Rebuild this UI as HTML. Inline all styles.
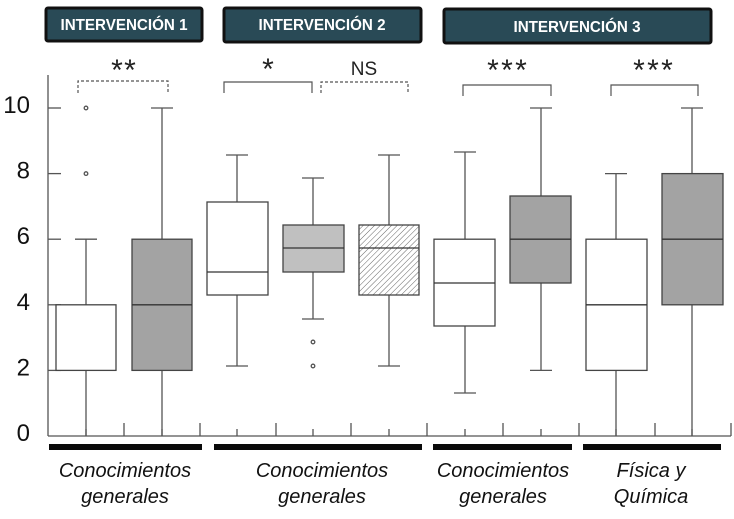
<!DOCTYPE html>
<html><head><meta charset="utf-8"><style>
html,body{margin:0;padding:0;background:#fff;}
svg{display:block;}
</style></head><body>
<svg width="734" height="519" viewBox="0 0 734 519" xmlns="http://www.w3.org/2000/svg">
<defs>
<pattern id="hatch" patternUnits="userSpaceOnUse" width="4" height="4" patternTransform="rotate(45)">
<line x1="0" y1="0" x2="0" y2="4" stroke="#666" stroke-width="1"/>
</pattern>
</defs>
<rect width="734" height="519" fill="#fff"/>

<!-- header boxes -->
<g font-family="Liberation Sans, sans-serif" font-weight="bold" font-size="16" fill="#fff" text-anchor="middle">
<rect x="46" y="8" width="156" height="33" rx="2" fill="#294a56" stroke="#111" stroke-width="3"/>
<text x="124" y="30" textLength="127" lengthAdjust="spacingAndGlyphs">INTERVENCIÓN 1</text>
<rect x="224" y="8" width="197" height="34" rx="2" fill="#294a56" stroke="#111" stroke-width="3"/>
<text x="322" y="30" textLength="127" lengthAdjust="spacingAndGlyphs">INTERVENCIÓN 2</text>
<rect x="444" y="9" width="267" height="34" rx="2" fill="#294a56" stroke="#111" stroke-width="3"/>
<text x="577" y="32" textLength="127" lengthAdjust="spacingAndGlyphs">INTERVENCIÓN 3</text>
</g>

<!-- significance -->
<g font-family="Liberation Sans, sans-serif" font-size="30" fill="#222" text-anchor="middle">
<text x="117" y="80">*</text><text x="130" y="80">*</text>
<text x="268" y="79">*</text>
<text x="493" y="80">*</text><text x="507" y="80">*</text><text x="521" y="80">*</text>
<text x="639" y="80">*</text><text x="653" y="80">*</text><text x="667" y="80">*</text>
</g>
<text x="364" y="75" font-family="Liberation Sans, sans-serif" font-size="19" fill="#222" text-anchor="middle">NS</text>
<g fill="none" stroke="#555" stroke-width="1.2">
<path d="M78,93 V81 H168 V93" stroke-dasharray="3,2"/>
<path d="M224,93 V82 H312 V93"/>
<path d="M321,93 V82 H408 V93" stroke-dasharray="3,2"/>
<path d="M463,96 V85 H551 V96"/>
<path d="M611,96 V85 H698 V96"/>
</g>

<!-- axes -->
<g stroke="#555" stroke-width="1.3" fill="none">
<line x1="48" y1="75" x2="48" y2="436"/>
<line x1="48" y1="436" x2="731" y2="436"/>
<line x1="48" y1="108" x2="61" y2="108"/>
<line x1="48" y1="173.6" x2="61" y2="173.6"/>
<line x1="48" y1="239.2" x2="61" y2="239.2"/>
<line x1="48" y1="304.8" x2="61" y2="304.8"/>
<line x1="48" y1="370.4" x2="61" y2="370.4"/>
<path d="M124,423V436 M200,423V436 M276,423V436 M351,423V436 M427,423V436 M503,423V436 M579,423V436 M655,423V436 M731,423V436"/>
<path d="M86,429V436 M162,429V436 M237,429V436 M313,429V436 M389,429V436 M465,429V436 M541,429V436 M616,429V436 M692,429V436"/>
</g>
<g font-family="Liberation Sans, sans-serif" font-size="24" fill="#111" text-anchor="end">
<text x="30" y="113">10</text>
<text x="30" y="178.6">8</text>
<text x="30" y="244.2">6</text>
<text x="30" y="309.8">4</text>
<text x="30" y="375.4">2</text>
<text x="30" y="441">0</text>
</g>

<!-- boxplots -->
<g stroke="#555" stroke-width="1.3">
<!-- 1 -->
<line x1="86" y1="239.2" x2="86" y2="304.8"/><line x1="75" y1="239.2" x2="97" y2="239.2"/>
<line x1="86" y1="370.4" x2="86" y2="436"/>
<rect x="56" y="304.8" width="60" height="65.6" fill="#fff" stroke="#444"/>
<circle cx="86" cy="108" r="1.8" fill="none"/><circle cx="86" cy="173.6" r="1.8" fill="none"/>
<!-- 2 -->
<line x1="162" y1="108" x2="162" y2="239.2"/><line x1="151" y1="108" x2="173" y2="108"/>
<line x1="162" y1="370.4" x2="162" y2="436"/>
<rect x="132" y="239.2" width="60" height="131.2" fill="#a3a3a3" stroke="#444"/>
<line x1="132" y1="304.8" x2="192" y2="304.8" stroke="#333"/>
<!-- 3 -->
<line x1="237" y1="155" x2="237" y2="202"/><line x1="226" y1="155" x2="248" y2="155"/>
<line x1="237" y1="295" x2="237" y2="366"/><line x1="226" y1="366" x2="248" y2="366"/>
<rect x="207" y="202" width="61" height="93" fill="#fff" stroke="#444"/>
<line x1="207" y1="272" x2="268" y2="272" stroke="#333"/>
<!-- 4 -->
<line x1="313" y1="178" x2="313" y2="225"/><line x1="302" y1="178" x2="324" y2="178"/>
<line x1="313" y1="272" x2="313" y2="319"/><line x1="302" y1="319" x2="324" y2="319"/>
<rect x="283" y="225" width="61" height="47" fill="#c0c0c0" stroke="#444"/>
<line x1="283" y1="248" x2="344" y2="248" stroke="#333"/>
<circle cx="313" cy="342" r="1.8" fill="none"/><circle cx="313" cy="366" r="1.8" fill="none"/>
<!-- 5 -->
<line x1="389" y1="155" x2="389" y2="225"/><line x1="378" y1="155" x2="400" y2="155"/>
<line x1="389" y1="295" x2="389" y2="366"/><line x1="378" y1="366" x2="400" y2="366"/>
<rect x="359" y="225" width="60" height="70" fill="#fff" stroke="none"/>
<rect x="359" y="225" width="60" height="70" fill="url(#hatch)" stroke="#444"/>
<line x1="359" y1="248" x2="419" y2="248" stroke="#333"/>
<!-- 6 -->
<line x1="465" y1="152" x2="465" y2="239.2"/><line x1="454" y1="152" x2="476" y2="152"/>
<line x1="465" y1="326" x2="465" y2="393"/><line x1="454" y1="393" x2="476" y2="393"/>
<rect x="434" y="239.2" width="61" height="86.8" fill="#fff" stroke="#444"/>
<line x1="434" y1="283" x2="495" y2="283" stroke="#333"/>
<!-- 7 -->
<line x1="541" y1="108" x2="541" y2="196"/><line x1="530" y1="108" x2="552" y2="108"/>
<line x1="541" y1="283" x2="541" y2="370.4"/><line x1="530" y1="370.4" x2="552" y2="370.4"/>
<rect x="510" y="196" width="61" height="87" fill="#a3a3a3" stroke="#444"/>
<line x1="510" y1="239.2" x2="571" y2="239.2" stroke="#333"/>
<!-- 8 -->
<line x1="616" y1="173.6" x2="616" y2="239.2"/><line x1="605" y1="173.6" x2="627" y2="173.6"/>
<line x1="616" y1="370.4" x2="616" y2="436"/>
<rect x="586" y="239.2" width="61" height="131.2" fill="#fff" stroke="#444"/>
<line x1="586" y1="304.8" x2="647" y2="304.8" stroke="#333"/>
<!-- 9 -->
<line x1="692" y1="108" x2="692" y2="173.6"/><line x1="681" y1="108" x2="703" y2="108"/>
<line x1="692" y1="304.8" x2="692" y2="436"/>
<rect x="662" y="173.6" width="61" height="131.2" fill="#a3a3a3" stroke="#444"/>
<line x1="662" y1="239.2" x2="723" y2="239.2" stroke="#333"/>
</g>

<!-- group bars -->
<g fill="#0a0a0a">
<rect x="49" y="444" width="153" height="6"/>
<rect x="214" y="444" width="208" height="6"/>
<rect x="433" y="444" width="139" height="6"/>
<rect x="583" y="444" width="138" height="6"/>
</g>

<g font-family="Liberation Sans, sans-serif" font-style="italic" font-size="20" fill="#111" text-anchor="middle">
<text x="125" y="477">Conocimientos</text><text x="125" y="503">generales</text>
<text x="322" y="477">Conocimientos</text><text x="322" y="503">generales</text>
<text x="503" y="477">Conocimientos</text><text x="503" y="503">generales</text>
<text x="651" y="477">Física y</text><text x="651" y="503">Química</text>
</g>
</svg>
</body></html>
